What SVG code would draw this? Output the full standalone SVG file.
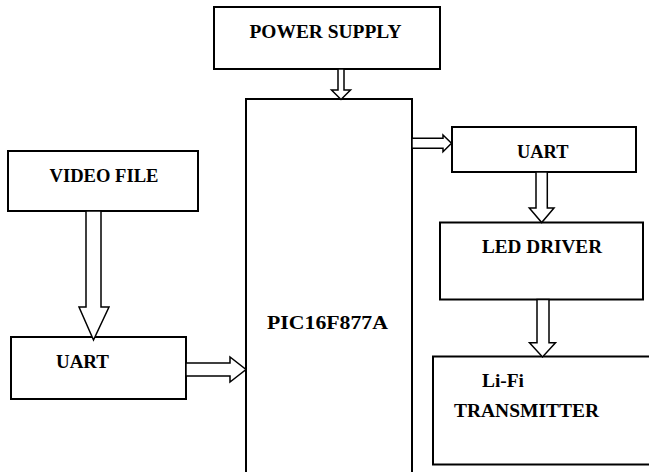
<svg xmlns="http://www.w3.org/2000/svg" width="649" height="472" viewBox="0 0 649 472">
<style>
.box{fill:#fff;stroke:#000;stroke-width:2}
.arr{fill:#fff;stroke:#000;stroke-width:1.5;stroke-linejoin:miter}
.lbl{font-family:"Liberation Serif","Times New Roman",serif;font-weight:bold;font-size:19px;fill:#000}
</style>
<rect width="649" height="472" fill="#fff"/>
<g id="power-supply">
<rect class="box" x="214" y="7" width="226" height="62"/>
<text class="lbl" x="249.5" y="37.5" textLength="152" lengthAdjust="spacingAndGlyphs">POWER SUPPLY</text>
</g>
<g id="pic">
<rect class="box" x="246" y="99" width="166" height="390"/>
<text class="lbl" x="267" y="329" textLength="121" lengthAdjust="spacingAndGlyphs">PIC16F877A</text>
</g>
<g id="video-file">
<rect class="box" x="8" y="151" width="190" height="60"/>
<text class="lbl" x="49.5" y="182" textLength="109" lengthAdjust="spacingAndGlyphs">VIDEO FILE</text>
</g>
<g id="uart-left">
<rect class="box" x="11" y="337" width="175" height="62"/>
<text class="lbl" x="56" y="368" textLength="53" lengthAdjust="spacingAndGlyphs">UART</text>
</g>
<g id="uart-right">
<rect class="box" x="452" y="127" width="184" height="45"/>
<text class="lbl" x="517" y="158" textLength="51.5" lengthAdjust="spacingAndGlyphs">UART</text>
</g>
<g id="led-driver">
<rect class="box" x="440" y="222.5" width="203" height="77"/>
<text class="lbl" x="482" y="253" textLength="120" lengthAdjust="spacingAndGlyphs">LED DRIVER</text>
</g>
<g id="lifi-transmitter">
<rect class="box" x="433" y="356.5" width="230" height="108"/>
<text class="lbl" x="482" y="386.5" textLength="42" lengthAdjust="spacingAndGlyphs">Li-Fi</text>
<text class="lbl" x="454" y="416.5" textLength="145" lengthAdjust="spacingAndGlyphs">TRANSMITTER</text>
</g>
<g id="connectors">
<polygon class="arr" points="338,69 344,69 344,90 350.5,90 341,99.5 331.5,90 338,90"/>
<polygon class="arr" points="86,211 101,211 101,307 109,307 93.5,340 79,307 86,307"/>
<polygon class="arr" points="186,363 230,363 230,357 246,369.5 230,382 230,376 186,376"/>
<polygon class="arr" points="412,138.3 443,138.3 443,135 451.5,143.3 443,151.7 443,148.3 412,148.3"/>
<polygon class="arr" points="536,172 547.3,172 547.3,208 554,208 541.7,222.5 529.3,208 536,208"/>
<polygon class="arr" points="537,299.5 549,299.5 549,342.7 555.5,342.7 542.5,357 529.5,342.7 537,342.7"/>
</g>
</svg>
